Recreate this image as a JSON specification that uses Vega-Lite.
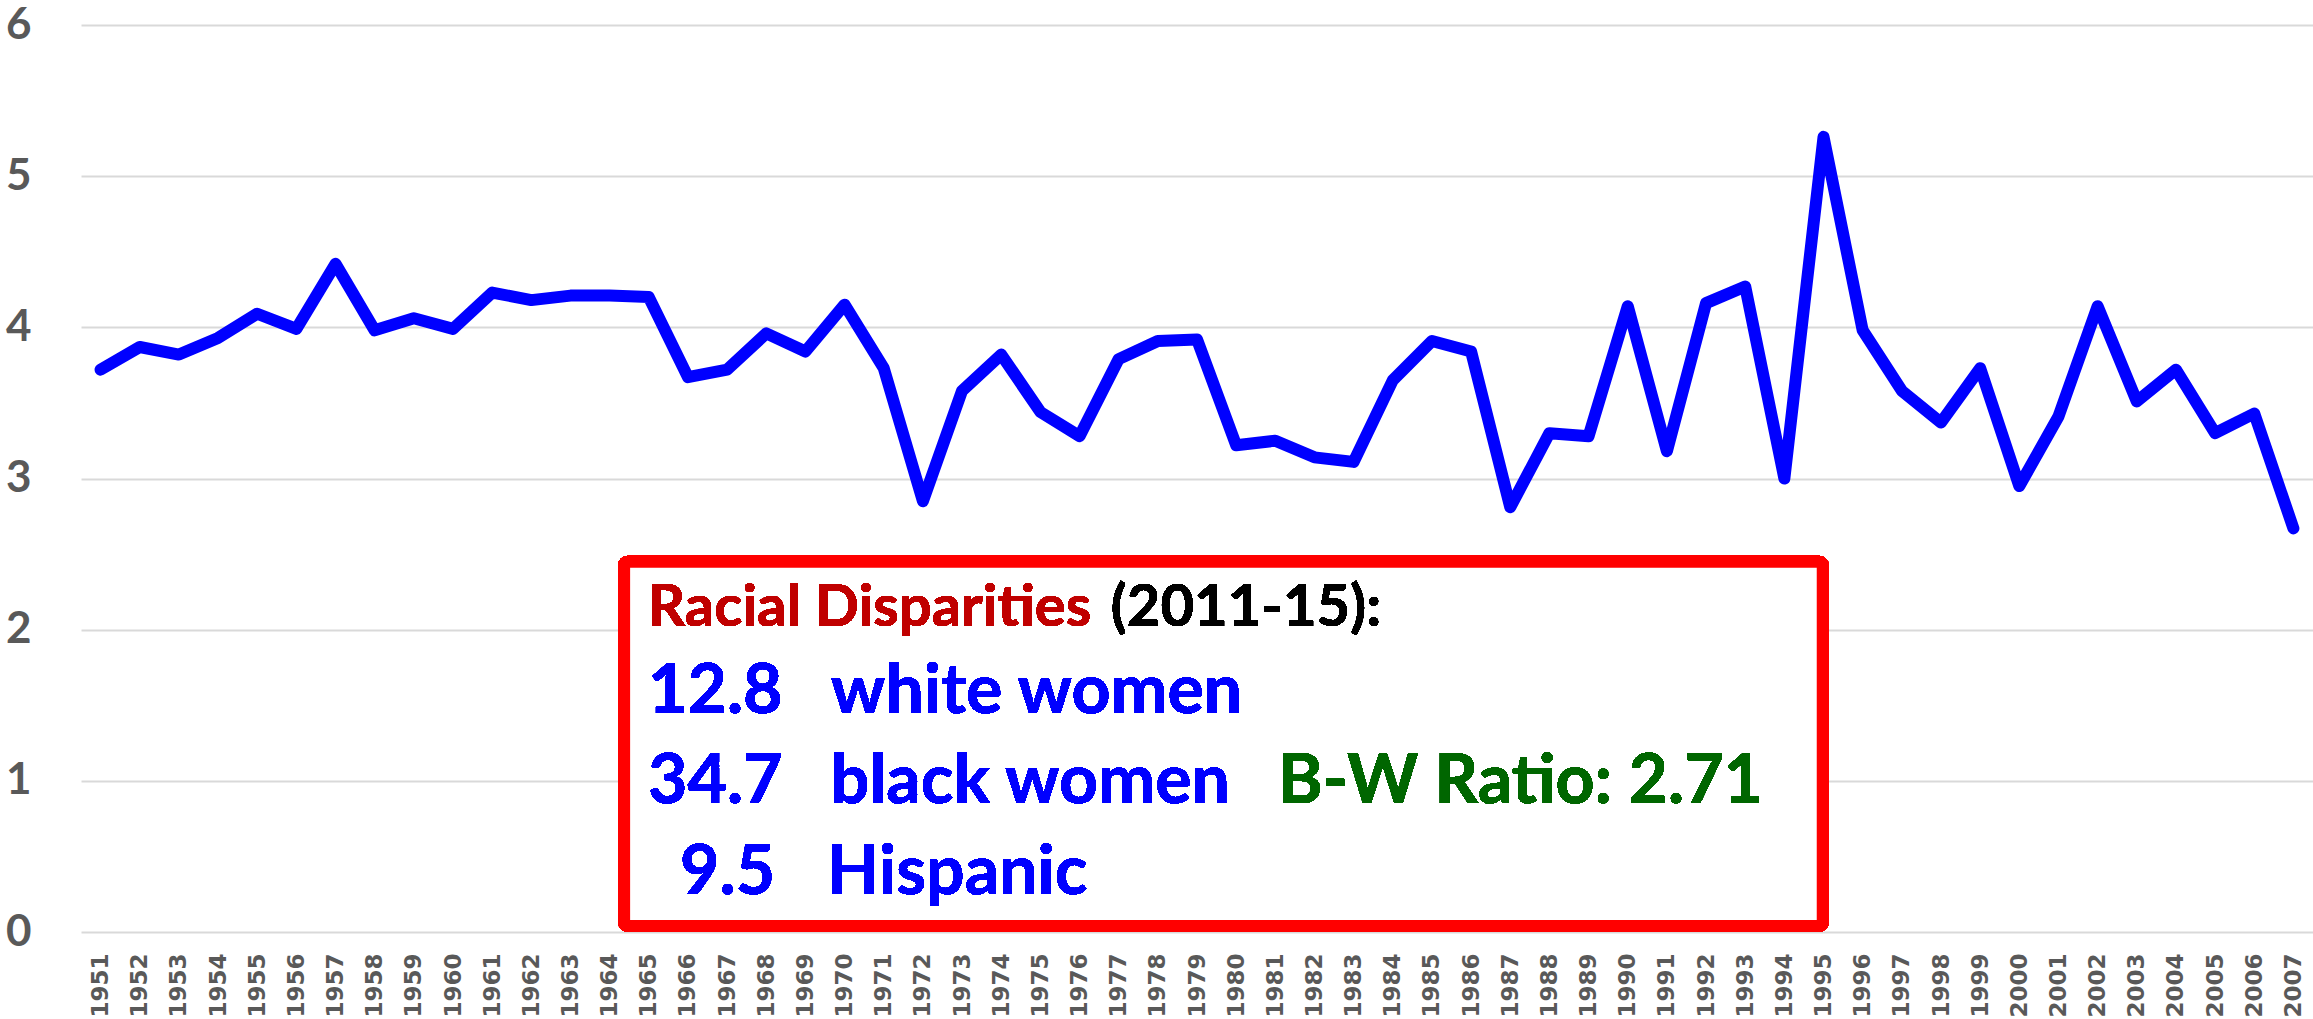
{
  "$schema": "https://vega.github.io/schema/vega-lite/v6.json",
  "autosize": {"type": "none"},
  "padding": {"left": 81, "top": 25, "right": 0, "bottom": 87},
  "width": 2232,
  "height": 907,
  "background": "white",
  "config": {"view": {"stroke": null}},
  "resolve": {"axis": {"x": "independent", "y": "independent"}},
  "data": {"values": [
    {"year": 1951, "value": 3.72}, {"year": 1952, "value": 3.87}, {"year": 1953, "value": 3.82},
    {"year": 1954, "value": 3.93}, {"year": 1955, "value": 4.09}, {"year": 1956, "value": 3.99},
    {"year": 1957, "value": 4.42}, {"year": 1958, "value": 3.98}, {"year": 1959, "value": 4.06},
    {"year": 1960, "value": 3.99}, {"year": 1961, "value": 4.23}, {"year": 1962, "value": 4.18},
    {"year": 1963, "value": 4.21}, {"year": 1964, "value": 4.21}, {"year": 1965, "value": 4.20},
    {"year": 1966, "value": 3.67}, {"year": 1967, "value": 3.72}, {"year": 1968, "value": 3.96},
    {"year": 1969, "value": 3.84}, {"year": 1970, "value": 4.15}, {"year": 1971, "value": 3.73},
    {"year": 1972, "value": 2.85}, {"year": 1973, "value": 3.58}, {"year": 1974, "value": 3.82},
    {"year": 1975, "value": 3.44}, {"year": 1976, "value": 3.28}, {"year": 1977, "value": 3.79},
    {"year": 1978, "value": 3.91}, {"year": 1979, "value": 3.92}, {"year": 1980, "value": 3.22},
    {"year": 1981, "value": 3.25}, {"year": 1982, "value": 3.14}, {"year": 1983, "value": 3.11},
    {"year": 1984, "value": 3.65}, {"year": 1985, "value": 3.91}, {"year": 1986, "value": 3.84},
    {"year": 1987, "value": 2.81}, {"year": 1988, "value": 3.30}, {"year": 1989, "value": 3.28},
    {"year": 1990, "value": 4.14}, {"year": 1991, "value": 3.18}, {"year": 1992, "value": 4.16},
    {"year": 1993, "value": 4.27}, {"year": 1994, "value": 3.00}, {"year": 1995, "value": 5.26},
    {"year": 1996, "value": 3.98}, {"year": 1997, "value": 3.58}, {"year": 1998, "value": 3.37},
    {"year": 1999, "value": 3.73}, {"year": 2000, "value": 2.95}, {"year": 2001, "value": 3.41},
    {"year": 2002, "value": 4.14}, {"year": 2003, "value": 3.51}, {"year": 2004, "value": 3.72},
    {"year": 2005, "value": 3.30}, {"year": 2006, "value": 3.43}, {"year": 2007, "value": 2.67}
  ]},
  "layer": [
    {
      "mark": {"type": "line", "color": "#0000FF", "strokeWidth": 12, "strokeCap": "round", "strokeJoin": "round"},
      "encoding": {
        "x": {
          "field": "year", "type": "quantitative",
          "scale": {"domain": [1950.5, 2007.5], "nice": false, "zero": false},
          "axis": {
            "title": null, "grid": false, "domain": false, "ticks": false,
            "values": [1951,1952,1953,1954,1955,1956,1957,1958,1959,1960,1961,1962,1963,1964,1965,1966,1967,1968,1969,1970,1971,1972,1973,1974,1975,1976,1977,1978,1979,1980,1981,1982,1983,1984,1985,1986,1987,1988,1989,1990,1991,1992,1993,1994,1995,1996,1997,1998,1999,2000,2001,2002,2003,2004,2005,2006,2007],
            "format": "d", "labelAngle": 270, "labelFont": "DejaVu Sans", "labelFontWeight": "bold",
            "labelFontSize": 23, "labelColor": "#595959", "labelPadding": 21,
            "labelOverlap": false, "labelFlush": false, "labelBound": false
          }
        },
        "y": {
          "field": "value", "type": "quantitative",
          "scale": {"domain": [0, 6], "nice": false},
          "axis": {
            "title": null, "values": [0,1,2,3,4,5,6], "format": "d", "grid": true, "gridColor": "#d9d9d9", "gridWidth": 2,
            "domain": false, "ticks": false, "labelFont": "Lato", "labelFontWeight": "bold",
            "labelFontSize": 44, "labelColor": "#595959", "labelPadding": 50
          }
        }
      }
    },
    {
      "mark": {"type": "rect", "fill": "white", "stroke": "#FF0000", "strokeWidth": 12, "cornerRadius": 4},
      "encoding": {
        "x": {"datum": 1964.37, "type": "quantitative", "axis": null},
        "x2": {"datum": 1994.98},
        "y": {"datum": 0.04, "type": "quantitative", "axis": null},
        "y2": {"datum": 2.45}
      }
    },
    {
      "mark": {"type": "text", "align": "left", "baseline": "middle", "font": "Lato", "fontWeight": "bold", "fontSize": 58, "color": "#C00000"},
      "encoding": {"x": {"datum": 1964.98, "type": "quantitative", "axis": null}, "y": {"datum": 2.136, "type": "quantitative", "axis": null}, "text": {"value": "Racial Disparities"}}
    },
    {
      "mark": {"type": "text", "align": "left", "baseline": "middle", "font": "Lato", "fontWeight": "bold", "fontSize": 58, "color": "#000000"},
      "encoding": {"x": {"datum": 1976.8, "type": "quantitative", "axis": null}, "y": {"datum": 2.136, "type": "quantitative", "axis": null}, "text": {"value": "(2011-15):"}}
    },
    {
      "mark": {"type": "text", "align": "left", "baseline": "middle", "font": "Lato", "fontWeight": "bold", "fontSize": 68, "color": "#0000FF"},
      "encoding": {"x": {"datum": 1964.98, "type": "quantitative", "axis": null}, "y": {"datum": 1.581, "type": "quantitative", "axis": null}, "text": {"value": "12.8"}}
    },
    {
      "mark": {"type": "text", "align": "left", "baseline": "middle", "font": "Lato", "fontWeight": "bold", "fontSize": 68, "color": "#0000FF"},
      "encoding": {"x": {"datum": 1969.65, "type": "quantitative", "axis": null}, "y": {"datum": 1.581, "type": "quantitative", "axis": null}, "text": {"value": "white women"}}
    },
    {
      "mark": {"type": "text", "align": "left", "baseline": "middle", "font": "Lato", "fontWeight": "bold", "fontSize": 68, "color": "#0000FF"},
      "encoding": {"x": {"datum": 1964.98, "type": "quantitative", "axis": null}, "y": {"datum": 0.985, "type": "quantitative", "axis": null}, "text": {"value": "34.7"}}
    },
    {
      "mark": {"type": "text", "align": "left", "baseline": "middle", "font": "Lato", "fontWeight": "bold", "fontSize": 68, "color": "#0000FF"},
      "encoding": {"x": {"datum": 1969.65, "type": "quantitative", "axis": null}, "y": {"datum": 0.985, "type": "quantitative", "axis": null}, "text": {"value": "black women"}}
    },
    {
      "mark": {"type": "text", "align": "left", "baseline": "middle", "font": "Lato", "fontWeight": "bold", "fontSize": 68, "color": "#006600"},
      "encoding": {"x": {"datum": 1981.07, "type": "quantitative", "axis": null}, "y": {"datum": 0.985, "type": "quantitative", "axis": null}, "text": {"value": "B-W Ratio: 2.71"}}
    },
    {
      "mark": {"type": "text", "align": "left", "baseline": "middle", "font": "Lato", "fontWeight": "bold", "fontSize": 68, "color": "#0000FF"},
      "encoding": {"x": {"datum": 1965.80, "type": "quantitative", "axis": null}, "y": {"datum": 0.384, "type": "quantitative", "axis": null}, "text": {"value": "9.5"}}
    },
    {
      "mark": {"type": "text", "align": "left", "baseline": "middle", "font": "Lato", "fontWeight": "bold", "fontSize": 68, "color": "#0000FF"},
      "encoding": {"x": {"datum": 1969.55, "type": "quantitative", "axis": null}, "y": {"datum": 0.384, "type": "quantitative", "axis": null}, "text": {"value": "Hispanic"}}
    }
  ]
}
